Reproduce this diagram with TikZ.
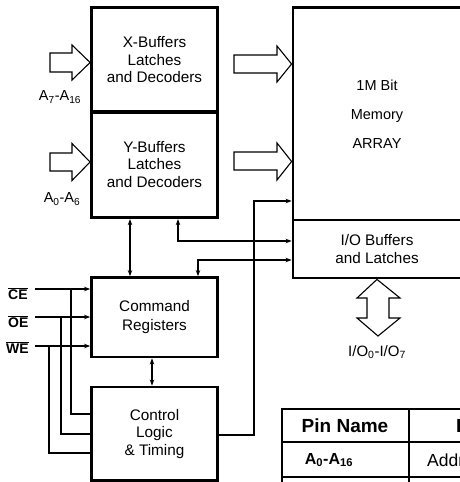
\documentclass[tikz,border=0pt]{standalone}
\usepackage{fontspec}
\setmainfont{Liberation Sans}
\usetikzlibrary{arrows.meta}
\begin{document}
\begin{tikzpicture}[x=1pt,y=-1pt,
  box/.style={draw,line width=2.8pt,rectangle,inner sep=0pt,align=center,
    font=\fontsize{15.3}{17.5}\selectfont},
  sig/.style={line width=1.1pt},
  tip/.style={-{Stealth[length=6pt,width=4.5pt]}},
  dtip/.style={{Stealth[length=6pt,width=4.5pt]}-{Stealth[length=6pt,width=4.5pt]}},
  blk/.style={draw,line width=1.1pt,fill=white,line join=miter},
  lab/.style={font=\fontsize{14.5}{16}\selectfont,inner sep=0pt},
  tbl/.style={line width=1.4pt}]
\useasboundingbox (0,0) rectangle (460,482);
\clip (0,0) rectangle (460,482);

% boxes
\node[box,minimum width=126pt,minimum height=105pt] (xbuf) at (154.5,60) {X-Buffers\\Latches\\and Decoders};
\node[box,minimum width=126pt,minimum height=106.5pt] (ybuf) at (154.5,164.5) {Y-Buffers\\Latches\\and Decoders};
\node[box,minimum width=126pt,minimum height=79.5pt] (cmd) at (154.5,317.25) {Command\\[1pt]Registers};
\node[box,minimum width=126pt,minimum height=93.5pt] (ctl) at (154.5,433.75) {Control\\Logic\\\&\ Timing};
\node[box,minimum width=168pt,minimum height=212.5pt,font=\fontsize{14.5}{29}\selectfont] (mem) at (377,113.75) {1M Bit\\Memory\\ARRAY};
\node[box,minimum width=168pt,minimum height=58pt] (io) at (377,249) {I/O Buffers\\and Latches};

% block arrows
\draw[blk] (50,53) -- (72,53) -- (72,45) -- (xbuf.west |- 0,62.5) -- (72,80) -- (72,72) -- (50,72) -- cycle;
\draw[blk] (50,153) -- (72,153) -- (72,143.5) -- (ybuf.west |- 0,162) -- (72,180.5) -- (72,171) -- (50,171) -- cycle;
\draw[blk] (234,55) -- (277,55) -- (277,46) -- (mem.west |- 0,64) -- (277,82) -- (277,73) -- (234,73) -- cycle;
\draw[blk] (234,152) -- (277,152) -- (277,143) -- (mem.west |- 0,161.5) -- (277,180) -- (277,170) -- (234,170) -- cycle;
\draw[blk] (io.south) -- (400,298) -- (389,298) -- (389,318) -- (400,318) -- (378,336) -- (357,318) -- (367,318) -- (367,298) -- (357,298) -- cycle;

\node[lab] (la1) at (60,97) {A\textsubscript{7}-A\textsubscript{16}};
\node[lab] (la2) at (62,199) {A\textsubscript{0}-A\textsubscript{6}};
\node[lab,font=\fontsize{15}{17}\selectfont] (lio) at (377,352) {I/O\textsubscript{0}-I/O\textsubscript{7}};

% internal connectors
\coordinate (c130) at (130,0);
\coordinate (c178) at (178,241);
\coordinate (c198) at (198,260);
\coordinate (c254) at (254,201);
\draw[sig,dtip] (ybuf.south -| c130) -- (cmd.north -| c130);
\draw[sig,dtip] (ybuf.south -| c178) -- (c178) -- (io.west |- c178);
\draw[sig,dtip] (cmd.north -| c198) -- (c198) -- (io.west |- c198);
\draw[sig,dtip] (cmd.south -| 152,0) -- (ctl.north -| 152,0);
\draw[sig,tip] (ctl.east |- 0,435) -- (254,435) -- (c254) -- (mem.west |- c254);

% control signals
\node[font=\bfseries\fontsize{14}{16}\selectfont,inner sep=0pt,anchor=base west] (ce) at (8,299) {$\overline{\hbox{CE}}$};
\node[font=\bfseries\fontsize{14}{16}\selectfont,inner sep=0pt,anchor=base west] (oe) at (8,327) {$\overline{\hbox{OE}}$};
\node[font=\bfseries\fontsize{14}{16}\selectfont,inner sep=0pt,anchor=base west] (we) at (6,353) {$\overline{\hbox{WE}}$};
\coordinate (ce0) at (35,289);
\coordinate (oe0) at (35,317);
\coordinate (we0) at (35,346);
\draw[sig,tip] (ce0) -- (cmd.west |- ce0);
\draw[sig,tip] (oe0) -- (cmd.west |- oe0);
\draw[sig,tip] (we0) -- (cmd.west |- we0);
\draw[sig] (71,289) -- (71,414) -- (ctl.west |- 0,414);
\draw[sig] (61,317) -- (61,434) -- (ctl.west |- 0,434);
\draw[sig] (49,346) -- (49,453) -- (ctl.west |- 0,453);

% pin table
\draw[tbl] (282,490) -- (282,409) -- (470,409);
\draw[tbl] (409,409) -- (409,490);
\draw[tbl] (282,442) -- (470,442);
\draw[tbl] (282,477) -- (470,477);
\node[font=\bfseries\fontsize{19}{21}\selectfont,inner sep=0pt] (pn) at (345,426) {Pin Name};
\node[font=\bfseries\fontsize{19}{21}\selectfont,inner sep=0pt,anchor=west] (fn) at (456,426) {Function};
\node[font=\bfseries\fontsize{16}{18}\selectfont,inner sep=0pt] (a016) at (329,460) {A\textsubscript{0}-A\textsubscript{16}};
\node[font=\fontsize{17.5}{19}\selectfont,inner sep=0pt,anchor=west] (addr) at (427,460) {Address};
\end{tikzpicture}
\end{document}
